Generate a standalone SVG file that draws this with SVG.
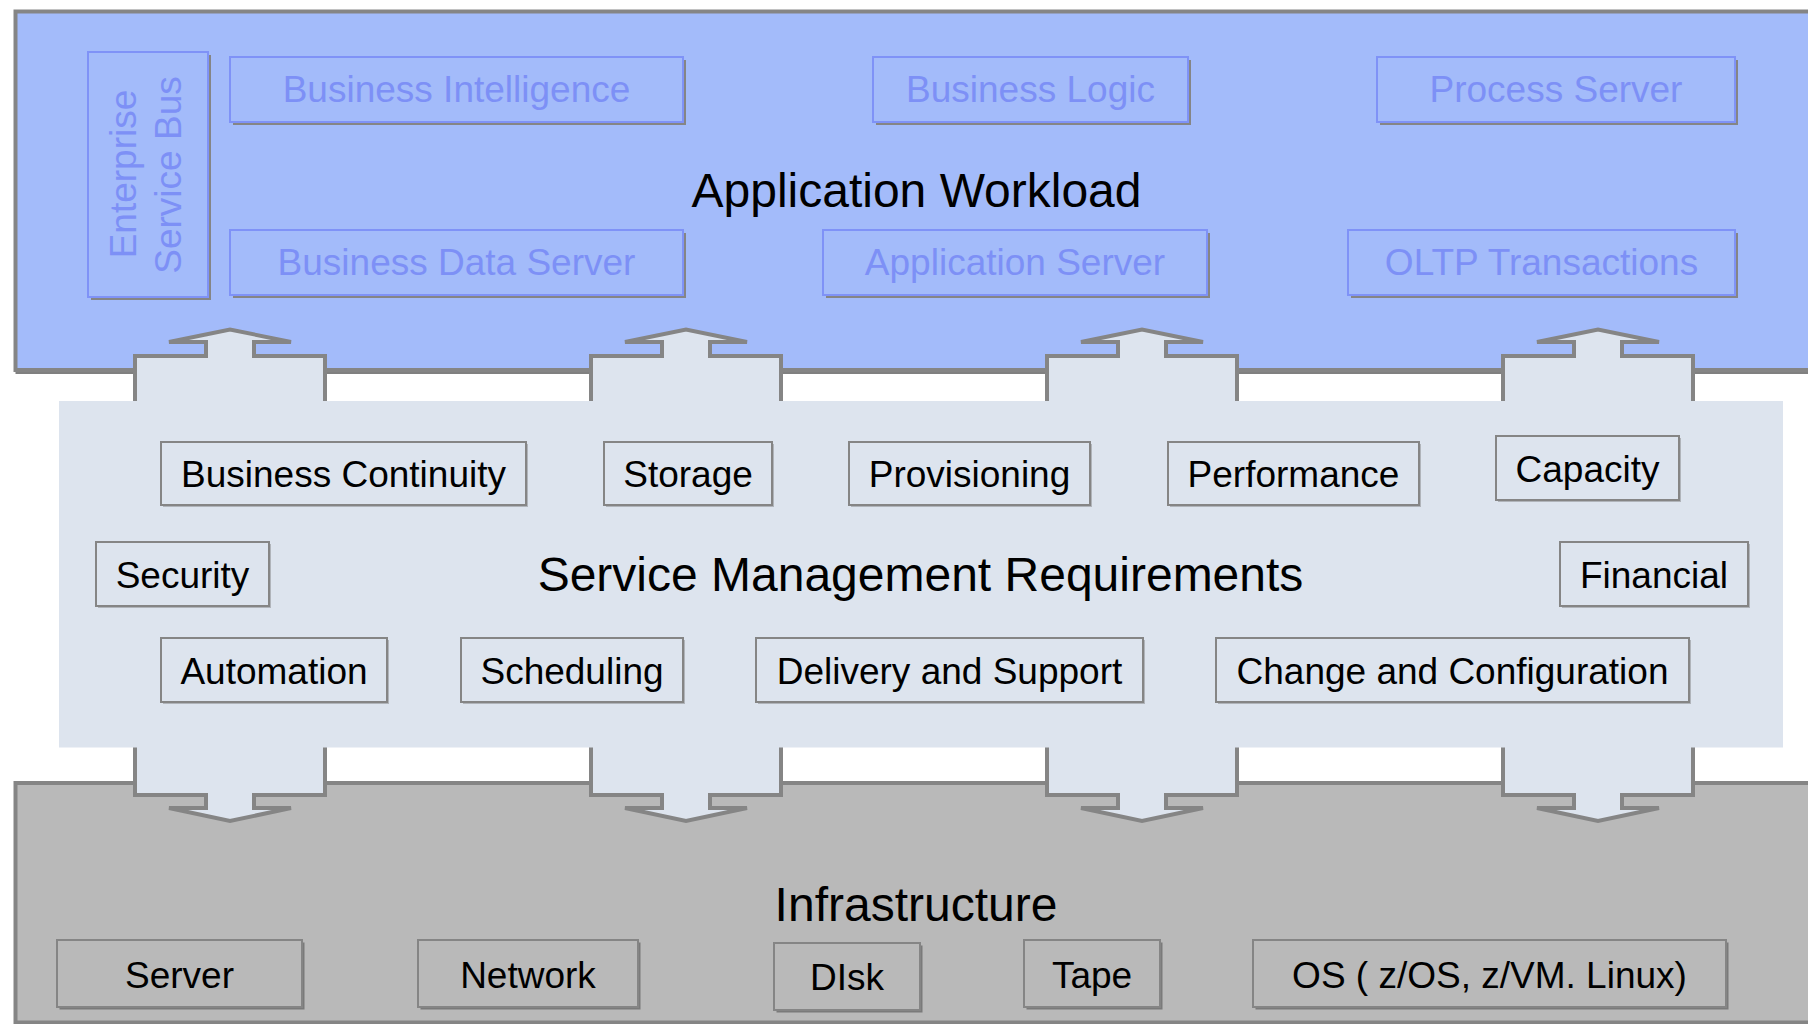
<svg xmlns="http://www.w3.org/2000/svg" width="1808" height="1024" viewBox="0 0 1808 1024">
<style>
  text { font-family: "Liberation Sans", Arial, sans-serif; }
  .title { font-size: 48px; fill: #000; text-anchor: middle; }
  .lbl { font-size: 37px; fill: #000; text-anchor: middle; }
  .blbl { font-size: 37px; fill: #7d90f6; text-anchor: middle; }
  .bbox { fill: #a3bbfa; stroke: #7f92f7; stroke-width: 2; }
  .bshadow { fill: #858585; }
  .mbox { fill: #dde4ee; stroke: #858585; stroke-width: 2; }
  .mshadow { fill: #b0b4ba; }
  .gbox { fill: #b9b9b9; stroke: #858585; stroke-width: 2; }
  .gshadow { fill: #7a7a7a; }
  .arrow { fill: #dde4ee; stroke: #858585; stroke-width: 4; stroke-linejoin: miter; }
</style>
<rect width="1808" height="1024" fill="#ffffff"/>

<g id="application-workload">
  <rect x="15.5" y="11.5" width="1900" height="362.5" fill="#808080"/>
  <rect x="15.5" y="11.5" width="1900" height="358.5" fill="#a3bbfa" stroke="#858585" stroke-width="4"/>
  <text class="title" x="916.5" y="207">Application Workload</text>
</g>

<g id="infrastructure">
  <rect x="15.5" y="783" width="1900" height="239.5" fill="#b9b9b9" stroke="#858585" stroke-width="4"/>
  <text class="title" x="916" y="921">Infrastructure</text>
</g>

<g id="connectors">
  <path class="arrow" d="M135,405 V356 H206 V342 H169 L230,329.5 L291,342 H254 V356 H325 V405"/>
  <path class="arrow" d="M591,405 V356 H662 V342 H625 L686,329.5 L747,342 H710 V356 H781 V405"/>
  <path class="arrow" d="M1047,405 V356 H1118 V342 H1081 L1142,329.5 L1203,342 H1166 V356 H1237 V405"/>
  <path class="arrow" d="M1503,405 V356 H1574 V342 H1537 L1598,329.5 L1659,342 H1622 V356 H1693 V405"/>
  <path class="arrow" d="M135,743 V795 H206 V808 H169 L230,821 L291,808 H254 V795 H325 V743"/>
  <path class="arrow" d="M591,743 V795 H662 V808 H625 L686,821 L747,808 H710 V795 H781 V743"/>
  <path class="arrow" d="M1047,743 V795 H1118 V808 H1081 L1142,821 L1203,808 H1166 V795 H1237 V743"/>
  <path class="arrow" d="M1503,743 V795 H1574 V808 H1537 L1598,821 L1659,808 H1622 V795 H1693 V743"/>
</g>

<g id="service-management-requirements">
  <rect x="59" y="401" width="1724" height="346.5" fill="#dde4ee"/>
  <text class="title" x="920.5" y="591">Service Management Requirements</text>
</g>

<!-- Application workload inner nodes -->
<g id="enterprise-service-bus">
  <rect class="bshadow" x="91" y="55" width="120" height="245"/>
  <rect class="bbox" x="88" y="52" width="120" height="245"/>
  <text class="blbl" transform="translate(136,174) rotate(-90)">Enterprise</text>
  <text class="blbl" transform="translate(180.5,175) rotate(-90)">Service Bus</text>
</g>
<g id="business-intelligence">
  <rect class="bshadow" x="233" y="60" width="453" height="65"/>
  <rect class="bbox" x="230" y="57" width="453" height="65"/>
  <text class="blbl" x="456.5" y="102">Business Intelligence</text>
</g>
<g id="business-logic">
  <rect class="bshadow" x="876" y="60" width="315" height="65"/>
  <rect class="bbox" x="873" y="57" width="315" height="65"/>
  <text class="blbl" x="1030.5" y="102">Business Logic</text>
</g>
<g id="process-server">
  <rect class="bshadow" x="1380" y="60" width="358" height="65"/>
  <rect class="bbox" x="1377" y="57" width="358" height="65"/>
  <text class="blbl" x="1556" y="102">Process Server</text>
</g>
<g id="business-data-server">
  <rect class="bshadow" x="233" y="233" width="453" height="65"/>
  <rect class="bbox" x="230" y="230" width="453" height="65"/>
  <text class="blbl" x="456.5" y="275">Business Data Server</text>
</g>
<g id="application-server">
  <rect class="bshadow" x="826" y="233" width="384" height="65"/>
  <rect class="bbox" x="823" y="230" width="384" height="65"/>
  <text class="blbl" x="1015" y="275">Application Server</text>
</g>
<g id="oltp-transactions">
  <rect class="bshadow" x="1351" y="233" width="387" height="65"/>
  <rect class="bbox" x="1348" y="230" width="387" height="65"/>
  <text class="blbl" x="1541.5" y="275">OLTP Transactions</text>
</g>

<!-- Service management nodes -->
<g id="business-continuity">
  <rect class="mshadow" x="163" y="444" width="365" height="63"/>
  <rect class="mbox" x="161" y="442" width="365" height="63"/>
  <text class="lbl" x="343.5" y="487">Business Continuity</text>
</g>
<g id="storage">
  <rect class="mshadow" x="606" y="444" width="168" height="63"/>
  <rect class="mbox" x="604" y="442" width="168" height="63"/>
  <text class="lbl" x="688" y="487">Storage</text>
</g>
<g id="provisioning">
  <rect class="mshadow" x="851" y="444" width="241" height="63"/>
  <rect class="mbox" x="849" y="442" width="241" height="63"/>
  <text class="lbl" x="969.5" y="487">Provisioning</text>
</g>
<g id="performance">
  <rect class="mshadow" x="1170" y="444" width="251" height="63"/>
  <rect class="mbox" x="1168" y="442" width="251" height="63"/>
  <text class="lbl" x="1293.5" y="487">Performance</text>
</g>
<g id="capacity">
  <rect class="mshadow" x="1498" y="438" width="183" height="64"/>
  <rect class="mbox" x="1496" y="436" width="183" height="64"/>
  <text class="lbl" x="1587.5" y="481.5">Capacity</text>
</g>
<g id="security">
  <rect class="mshadow" x="98" y="544" width="173" height="64"/>
  <rect class="mbox" x="96" y="542" width="173" height="64"/>
  <text class="lbl" x="182.5" y="588">Security</text>
</g>
<g id="financial">
  <rect class="mshadow" x="1562" y="544" width="188" height="64"/>
  <rect class="mbox" x="1560" y="542" width="188" height="64"/>
  <text class="lbl" x="1654" y="588">Financial</text>
</g>
<g id="automation">
  <rect class="mshadow" x="163" y="640" width="226" height="64"/>
  <rect class="mbox" x="161" y="638" width="226" height="64"/>
  <text class="lbl" x="274" y="683.5">Automation</text>
</g>
<g id="scheduling">
  <rect class="mshadow" x="463" y="640" width="222" height="64"/>
  <rect class="mbox" x="461" y="638" width="222" height="64"/>
  <text class="lbl" x="572" y="683.5">Scheduling</text>
</g>
<g id="delivery-and-support">
  <rect class="mshadow" x="758" y="640" width="387" height="64"/>
  <rect class="mbox" x="756" y="638" width="387" height="64"/>
  <text class="lbl" x="949.5" y="683.5">Delivery and Support</text>
</g>
<g id="change-and-configuration">
  <rect class="mshadow" x="1218" y="640" width="473" height="64"/>
  <rect class="mbox" x="1216" y="638" width="473" height="64"/>
  <text class="lbl" x="1452.5" y="683.5">Change and Configuration</text>
</g>

<!-- Infrastructure nodes -->
<g id="server">
  <rect class="gshadow" x="59.5" y="942.5" width="245" height="67"/>
  <rect class="gbox" x="57" y="940" width="245" height="67"/>
  <text class="lbl" x="179.5" y="987.5">Server</text>
</g>
<g id="network">
  <rect class="gshadow" x="420.5" y="942.5" width="220" height="67"/>
  <rect class="gbox" x="418" y="940" width="220" height="67"/>
  <text class="lbl" x="528" y="987.5">Network</text>
</g>
<g id="disk">
  <rect class="gshadow" x="776.5" y="945.5" width="146" height="67"/>
  <rect class="gbox" x="774" y="943" width="146" height="67"/>
  <text class="lbl" x="847" y="990">DIsk</text>
</g>
<g id="tape">
  <rect class="gshadow" x="1026.5" y="942.5" width="136" height="67"/>
  <rect class="gbox" x="1024" y="940" width="136" height="67"/>
  <text class="lbl" x="1092" y="987.5">Tape</text>
</g>
<g id="os">
  <rect class="gshadow" x="1255.5" y="942.5" width="473" height="67"/>
  <rect class="gbox" x="1253" y="940" width="473" height="67"/>
  <text class="lbl" x="1489.5" y="987.5">OS ( z/OS, z/VM. Linux)</text>
</g>
</svg>
